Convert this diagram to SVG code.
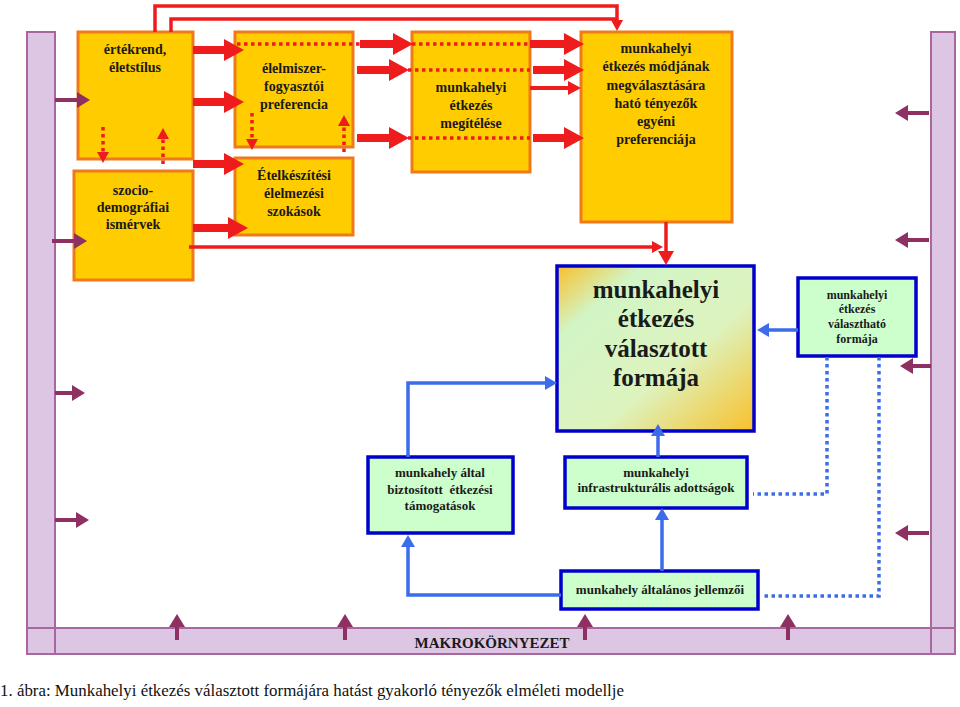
<svg xmlns="http://www.w3.org/2000/svg" width="960" height="707" viewBox="0 0 960 707" font-family="'Liberation Serif', 'DejaVu Serif', serif">
<style>
.ob{fill:#FFCC00;stroke:#F07A1A;stroke-width:3}
.gb{fill:#CCFFCC;stroke:#0000CC;stroke-width:3.5}
.bar{fill:#DDC6E3;stroke:#A8679F;stroke-width:2}
.t{font-weight:bold;fill:#1a1a1a;text-anchor:middle}
.t14{font-size:14px}
.t12{font-size:12px}
.t13{font-size:13px}
.t25{font-size:25px}
.rthick{stroke:#EE1C1C;stroke-width:8;fill:none}
.rmed{stroke:#EE1C1C;stroke-width:4;fill:none}
.rthin{stroke:#EE1C1C;stroke-width:3.5;fill:none}
.rdot{stroke:#EE1C1C;stroke-width:3.5;fill:none;stroke-dasharray:3.5 3.5}
.bl{stroke:#3D6CEB;stroke-width:3.5;fill:none}
.bdot{stroke:#3D6CEB;stroke-width:3.5;fill:none;stroke-dasharray:3.5 3.5}
.pu{stroke:#8E3062;stroke-width:4;fill:none}
</style>
<defs>
<marker id="mRB" markerUnits="userSpaceOnUse" markerWidth="20" markerHeight="22" refX="0" refY="11" orient="auto"><path d="M0,0 L20,11 L0,22 z" fill="#EE1C1C"/></marker>
<marker id="mRM" markerUnits="userSpaceOnUse" markerWidth="14" markerHeight="14" refX="0" refY="7" orient="auto"><path d="M0,0 L13,7 L0,14 z" fill="#EE1C1C"/></marker>
<marker id="mRS" markerUnits="userSpaceOnUse" markerWidth="12" markerHeight="12" refX="0" refY="6" orient="auto"><path d="M0,0 L11,6 L0,12 z" fill="#EE1C1C"/></marker>
<marker id="mRD" markerUnits="userSpaceOnUse" markerWidth="16" markerHeight="16" refX="0" refY="8" orient="auto"><path d="M0,0 L14,8 L0,16 z" fill="#EE1C1C"/></marker>
<marker id="mB" markerUnits="userSpaceOnUse" markerWidth="14" markerHeight="14" refX="0" refY="7" orient="auto"><path d="M0,0 L12,7 L0,14 z" fill="#3D6CEB"/></marker>
<marker id="mP" markerUnits="userSpaceOnUse" markerWidth="14" markerHeight="16" refX="0" refY="8" orient="auto"><path d="M0,0 L13,8 L0,16 z" fill="#8E3062"/></marker>
<linearGradient id="gSel" x1="0" y1="0" x2="1" y2="1">
<stop offset="0" stop-color="#F9C02A"/>
<stop offset="0.22" stop-color="#D2F5C6"/>
<stop offset="0.6" stop-color="#DDF3BE"/>
<stop offset="1" stop-color="#F9C02A"/>
</linearGradient>
</defs>

<g id="makrokornyezet">
<rect class="bar" x="27" y="32" width="28" height="622"/>
<rect class="bar" x="931" y="32" width="24" height="622"/>
<rect class="bar" x="27" y="628" width="928" height="26"/>
<line x1="55" y1="628" x2="55" y2="654" stroke="#A8679F" stroke-width="2"/>
<line x1="931" y1="628" x2="931" y2="654" stroke="#A8679F" stroke-width="2"/>
<text class="t" x="492" y="648" font-size="15">MAKROKÖRNYEZET</text>
</g>

<g id="ertekrend">
<rect class="ob" x="78" y="32" width="115" height="127"/>
<text class="t t14" x="135" y="54">értékrend,</text>
<text class="t t14" x="135" y="72">életstílus</text>
</g>
<g id="szociodemografiai">
<rect class="ob" x="74" y="171" width="119" height="109"/>
<text class="t t14" x="133" y="195">szocio-</text>
<text class="t t14" x="133" y="212">demográfiai</text>
<text class="t t14" x="133" y="229">ismérvek</text>
</g>
<g id="elelmiszer">
<rect class="ob" x="235" y="32" width="118" height="115"/>
<text class="t t14" x="294" y="73">élelmiszer-</text>
<text class="t t14" x="294" y="91">fogyasztói</text>
<text class="t t14" x="294" y="109">preferencia</text>
</g>
<g id="etelkeszitesi">
<rect class="ob" x="235" y="158" width="118" height="77"/>
<text class="t t14" x="294" y="180">Ételkészítési</text>
<text class="t t14" x="294" y="198">élelmezési</text>
<text class="t t14" x="294" y="216">szokások</text>
</g>
<g id="megitelese">
<rect class="ob" x="412" y="32" width="118" height="140"/>
<text class="t t14" x="471" y="92">munkahelyi</text>
<text class="t t14" x="471" y="110">étkezés</text>
<text class="t t14" x="471" y="128">megítélése</text>
</g>
<g id="egyeni">
<rect class="ob" x="581" y="32" width="151" height="190"/>
<text class="t t14" x="656" y="53">munkahelyi</text>
<text class="t t14" x="656" y="71">étkezés módjának</text>
<text class="t t14" x="656" y="90">megválasztására</text>
<text class="t t14" x="656" y="108">ható tényezők</text>
<text class="t t14" x="656" y="126">egyéni</text>
<text class="t t14" x="656" y="144">preferenciája</text>
</g>
<g id="valasztott">
<rect x="557" y="266" width="197" height="165" fill="url(#gSel)" stroke="#0000CC" stroke-width="3.5"/>
<text class="t t25" x="656" y="298">munkahelyi</text>
<text class="t t25" x="656" y="327">étkezés</text>
<text class="t t25" x="656" y="357">választott</text>
<text class="t t25" x="656" y="386">formája</text>
</g>
<g id="valaszthato">
<rect class="gb" x="798" y="278" width="118" height="78"/>
<text class="t t12" x="857" y="299">munkahelyi</text>
<text class="t t12" x="857" y="313">étkezés</text>
<text class="t t12" x="857" y="328">választható</text>
<text class="t t12" x="857" y="343">formája</text>
</g>
<g id="tamogatasok">
<rect class="gb" x="368" y="457" width="145" height="76"/>
<text class="t t13" x="440" y="477">munkahely által</text>
<text class="t t13" x="440" y="494" xml:space="preserve">biztosított  étkezési</text>
<text class="t t13" x="440" y="510">támogatások</text>
</g>
<g id="infrastruktura">
<rect class="gb" x="565" y="457" width="182" height="51"/>
<text class="t t13" x="656" y="477">munkahelyi</text>
<text class="t t13" x="656" y="492">infrastrukturális adottságok</text>
</g>
<g id="jellemzoi">
<rect class="gb" x="561" y="571" width="197" height="38"/>
<text class="t t13" x="660" y="594">munkahely általános jellemzői</text>
</g>

<g id="connectors">
<path class="rthin" d="M155,32 V6 H617 V20" marker-end="url(#mRS)"/>
<path class="rthin" d="M171,32 V19 H617"/>
<path class="rthin" d="M189,247 H652" marker-end="url(#mRS)"/>
<path class="rthin" d="M666,222 V251" marker-end="url(#mRD)"/>
<line class="rdot" x1="237" y1="44" x2="530" y2="44"/>
<line class="rdot" x1="408" y1="70" x2="530" y2="70"/>
<line class="rdot" x1="408" y1="138" x2="530" y2="138"/>
<line class="rdot" x1="103" y1="127" x2="103" y2="152" marker-end="url(#mRS)"/>
<line class="rdot" x1="163" y1="164" x2="163" y2="139" marker-end="url(#mRS)"/>
<line class="rdot" x1="252" y1="113" x2="252" y2="139" marker-end="url(#mRS)"/>
<line class="rdot" x1="344" y1="152" x2="344" y2="126" marker-end="url(#mRS)"/>
<line class="rthick" x1="193" y1="50" x2="224" y2="50" marker-end="url(#mRB)"/>
<line class="rthick" x1="193" y1="102" x2="224" y2="102" marker-end="url(#mRB)"/>
<line class="rthick" x1="193" y1="164" x2="224" y2="164" marker-end="url(#mRB)"/>
<line class="rthick" x1="193" y1="228" x2="228" y2="228" marker-end="url(#mRB)"/>
<line class="rthick" x1="360" y1="44" x2="393" y2="44" marker-end="url(#mRB)"/>
<line class="rthick" x1="357" y1="70" x2="389" y2="70" marker-end="url(#mRB)"/>
<line class="rthick" x1="357" y1="138" x2="389" y2="138" marker-end="url(#mRB)"/>
<line class="rthick" x1="530" y1="44" x2="564" y2="44" marker-end="url(#mRB)"/>
<line class="rthick" x1="533" y1="70" x2="564" y2="70" marker-end="url(#mRB)"/>
<line class="rmed" x1="530" y1="88" x2="568" y2="88" marker-end="url(#mRM)"/>
<line class="rthick" x1="533" y1="138" x2="564" y2="138" marker-end="url(#mRB)"/>
<line class="bl" x1="798" y1="330" x2="769" y2="330" marker-end="url(#mB)"/>
<path class="bl" d="M408,457 V383 H545" marker-end="url(#mB)"/>
<line class="bl" x1="658" y1="457" x2="658" y2="436" marker-end="url(#mB)"/>
<line class="bl" x1="662" y1="571" x2="662" y2="520" marker-end="url(#mB)"/>
<path class="bl" d="M561,595 H408 V547" marker-end="url(#mB)"/>
<path class="bdot" d="M827,357 V494 H753"/>
<path class="bdot" d="M879,357 V596 H762"/>
<line class="pu" x1="55" y1="100" x2="77" y2="100" marker-end="url(#mP)"/>
<line class="pu" x1="52" y1="241" x2="74" y2="241" marker-end="url(#mP)"/>
<line class="pu" x1="55" y1="393" x2="72" y2="393" marker-end="url(#mP)"/>
<line class="pu" x1="55" y1="520" x2="76" y2="520" marker-end="url(#mP)"/>
<line class="pu" x1="929" y1="113" x2="908" y2="113" marker-end="url(#mP)"/>
<line class="pu" x1="929" y1="240" x2="908" y2="240" marker-end="url(#mP)"/>
<line class="pu" x1="931" y1="366" x2="913" y2="366" marker-end="url(#mP)"/>
<line class="pu" x1="929" y1="533" x2="908" y2="533" marker-end="url(#mP)"/>
<line class="pu" x1="177" y1="640" x2="177" y2="627" marker-end="url(#mP)"/>
<line class="pu" x1="345" y1="640" x2="345" y2="627" marker-end="url(#mP)"/>
<line class="pu" x1="585" y1="640" x2="585" y2="627" marker-end="url(#mP)"/>
<line class="pu" x1="788" y1="640" x2="788" y2="627" marker-end="url(#mP)"/>
</g>

<text x="0" y="696" font-size="17" fill="#111" textLength="624" lengthAdjust="spacingAndGlyphs">1. ábra: Munkahelyi étkezés választott formájára hatást gyakorló tényezők elméleti modellje</text>
</svg>
